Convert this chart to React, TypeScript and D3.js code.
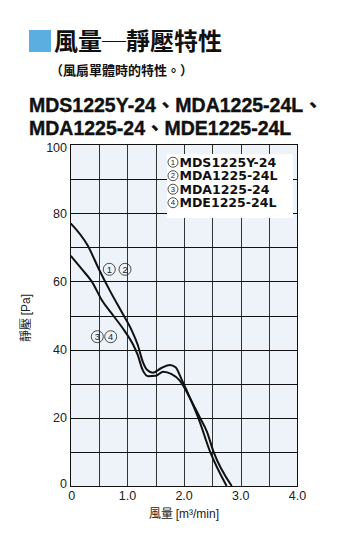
import React from "react";
import * as d3 from "d3";

// 風量 (m3/min) / 靜壓 (Pa)
const flow12 = [0, 0.3, 0.5, 0.7, 0.9, 1.08, 1.18, 1.27, 1.35, 1.45, 1.6, 1.75, 1.85, 1.95, 2.1, 2.28, 2.4, 2.52, 2.84];
const pressure12 = [77, 70.5, 63.5, 57, 51, 45.5, 41.5, 36.5, 34, 33.2, 34.6, 35.5, 34.8, 31.5, 26, 20, 16, 10, 0];
const flow34 = [0, 0.2, 0.37, 0.55, 0.75, 0.95, 1.1, 1.18, 1.27, 1.37, 1.5, 1.63, 1.78, 1.92, 2.05, 2.25, 2.46, 2.75];
const pressure34 = [67.5, 63.5, 60, 54.5, 50, 45.5, 41.5, 38.5, 34, 32.2, 32.3, 33.5, 32.8, 31, 27.5, 20, 10, 0];

const xTicks = [0, 1, 2, 3, 4];
const xTickLabels = ["0", "1.0", "2.0", "3.0", "4.0"];
const yTicks = [0, 20, 40, 60, 80, 100];
const xGrid = d3.range(0.5, 4, 0.5);
const yGrid = d3.range(10, 100, 10);

const legendItems = ["MDS1225Y-24", "MDA1225-24L", "MDA1225-24", "MDE1225-24L"];
const circled = ["1", "2", "3", "4"];

const title = "風量─靜壓特性";
const subtitle = "（風扇單體時的特性。）";
const modelsLine1 = "MDS1225Y-24、MDA1225-24L、";
const modelsLine2 = "MDA1225-24、MDE1225-24L";

const W = 354;
const H = 550;
const plot = { left: 70.7, right: 297.5, top: 145, bottom: 486 };

const cjk = "'Noto Sans CJK TC', 'Noto Sans CJK JP', sans-serif";
const latin = "'Liberation Sans', 'Noto Sans CJK TC', sans-serif";

export default function App() {
  const x = d3.scaleLinear().domain([0, 4]).range([plot.left, plot.right]);
  const y = d3.scaleLinear().domain([0, 100]).range([plot.bottom, plot.top]);
  const crisp = (v: number) => Math.round(v) + 0.5;

  const line = d3
    .line<[number, number]>()
    .x((d) => x(d[0]))
    .y((d) => y(d[1]))
    .curve(d3.curveMonotoneX);

  const curves = [
    flow12.map((f, i) => [f, pressure12[i]] as [number, number]),
    flow34.map((f, i) => [f, pressure34[i]] as [number, number]),
  ];

  // legend box sits over the top-right of the grid
  const box = { x0: 167, x1: 293, y0: 154, y1: 218 };

  const circleMark = (cx: number, cy: number, n: string, key: string, r = 6) => (
    <g key={key}>
      <circle cx={cx} cy={cy} r={r} fill="none" stroke="#222" strokeWidth={0.8} />
      <text x={cx} y={cy} dy="0.36em" textAnchor="middle" fontSize={r * 1.55} fontFamily={latin} fill="#222">
        {n}
      </text>
    </g>
  );

  return (
    <svg
      width={W}
      height={H}
      style={{ position: "absolute", left: 0, top: 0, background: "#fff" }}
    >
      {/* heading */}
      <rect x={29} y={30} width={22} height={22} fill="#5aaee0" />
      <text x={54} y={50} fontFamily={cjk} fontWeight={700} fontSize={24} fill="#111">
        {title}
      </text>
      <text x={50} y={75} fontFamily={cjk} fontWeight={700} fontSize={13} fill="#111">
        {subtitle}
      </text>
      <text x={29} y={112} fontFamily={latin} fontWeight={700} fontSize={19.5} fill="#111" stroke="#111" strokeWidth={0.4}>
        {modelsLine1}
      </text>
      <text x={29} y={135} fontFamily={latin} fontWeight={700} fontSize={19.5} fill="#111" stroke="#111" strokeWidth={0.4}>
        {modelsLine2}
      </text>

      {/* plot area */}
      <rect
        x={plot.left}
        y={plot.top}
        width={plot.right - plot.left}
        height={plot.bottom - plot.top}
        fill="#edf3f9"
      />
      <g>
        {xGrid.map((v) => (
          <line key={"vx" + v} x1={crisp(x(v))} x2={crisp(x(v))} y1={plot.top} y2={plot.bottom} stroke="#333" strokeWidth={1} />
        ))}
        {yGrid.map((v) => (
          <line key={"hy" + v} x1={plot.left} x2={plot.right} y1={crisp(y(v))} y2={crisp(y(v))} stroke="#111" strokeWidth={1} />
        ))}
      </g>

      {/* legend */}
      <rect x={box.x0} y={box.y0} width={box.x1 - box.x0} height={box.y1 - box.y0} fill="#fff" />
      {legendItems.map((name, i) => {
        const by = 166.5 + i * 13.5;
        return (
          <g key={name}>
            {circleMark(173, by - 4.3, circled[i], "lc" + i, 5)}
            <text
              transform={`translate(179.5, ${by}) scale(1.1, 1)`}
              fontFamily="'DejaVu Sans', sans-serif"
              fontWeight={700}
              fontSize={11.4}
              fill="#111"
            >
              {name}
            </text>
          </g>
        );
      })}

      {/* frame */}
      <rect
        x={crisp(plot.left) - 1}
        y={crisp(plot.top) - 1}
        width={Math.round(plot.right - plot.left)}
        height={Math.round(plot.bottom - plot.top) + 1}
        fill="none"
        stroke="#111"
        strokeWidth={1}
      />

      {/* curves */}
      {curves.map((c, i) => (
        <path key={"c" + i} d={line(c) || ""} fill="none" stroke="#111" strokeWidth={2} strokeLinejoin="round" />
      ))}

      {/* curve tags */}
      {circleMark(109.3, 269.3, "1", "t1")}
      {circleMark(125, 269.3, "2", "t2")}
      {circleMark(97.3, 336.7, "3", "t3")}
      {circleMark(110.7, 336.7, "4", "t4")}

      {/* y ticks */}
      {yTicks.map((v) => (
        <text
          key={"yt" + v}
          x={67}
          y={y(v) + (v === 100 ? 3 : v === 0 ? -2 : 0)}
          dy="0.35em"
          textAnchor="end"
          fontFamily={latin}
          fontSize={12.5}
          fill="#222"
        >
          {v}
        </text>
      ))}
      {/* x ticks */}
      {xTicks.map((v, i) => (
        <text key={"xt" + v} x={x(v) + (v === 0 ? 1 : 0)} y={500} textAnchor="middle" fontFamily={latin} fontSize={12.5} fill="#222">
          {xTickLabels[i]}
        </text>
      ))}

      {/* axis titles */}
      <text x={184} y={518} textAnchor="middle" fontFamily={cjk} fontSize={12} fill="#222">
        風量 <tspan fontFamily={latin}>[m³/min]</tspan>
      </text>
      <text
        transform="translate(30, 318) rotate(-90)"
        textAnchor="middle"
        fontFamily={cjk}
        fontSize={12}
        fill="#222"
      >
        靜壓 <tspan fontFamily={latin}>[Pa]</tspan>
      </text>
    </svg>
  );
}
